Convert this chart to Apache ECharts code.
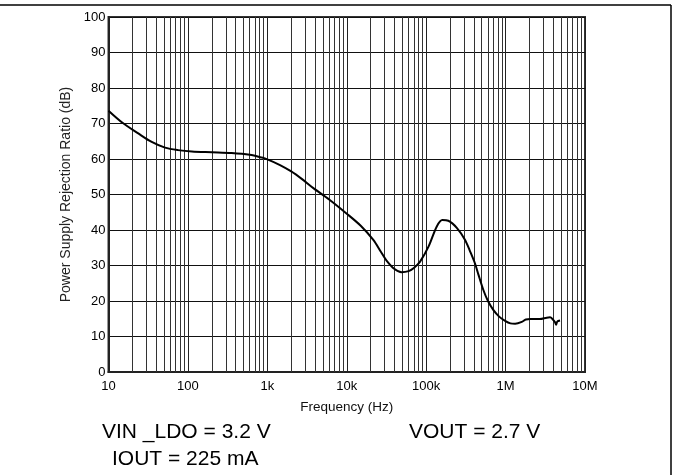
<!DOCTYPE html>
<html>
<head>
<meta charset="utf-8">
<script src="https://cdn.jsdelivr.net/npm/echarts@6/dist/echarts.min.js"></script>
<style>
html,body{margin:0;padding:0;background:#fff;}
#chart{width:673px;height:475px;}
</style>
</head>
<body>
<div id="chart"></div>
<script>
// Frequency (Hz)
var freqHz = [10, 15, 23.7, 35, 51.5, 75, 112, 200, 355, 600, 851, 1000, 1445, 2000, 2710, 3800, 6000, 10000, 15000, 21600, 27000, 31700, 40000, 49000, 60000, 70000, 83800, 107000, 136000, 160000, 190000, 243000, 309000, 357000, 413000, 454000, 525000, 600000, 700000, 830000, 986000, 1150000, 1320000, 1600000, 1800000, 2040000, 2700000, 3300000, 3630000, 3940000, 4200000, 4330000, 4470000, 4850000];
// PSRR (dB)
var psrrDb = [73.6, 70.2, 67.2, 64.8, 63.2, 62.5, 62.1, 61.9, 61.7, 61.2, 60.4, 59.9, 58.3, 56.5, 54.4, 51.8, 48.6, 44.6, 41.2, 37.2, 33.8, 31.4, 29.0, 28.1, 28.4, 29.3, 31.1, 35.3, 41.0, 42.8, 42.6, 40.6, 37.2, 34.0, 30.5, 27.5, 23.1, 20.0, 17.5, 15.6, 14.4, 13.7, 13.6, 14.1, 14.8, 14.9, 14.9, 15.3, 15.4, 14.8, 14.0, 13.3, 14.2, 14.5];
// Minor vertical grid frequencies (2..9 of each decade)
var minorFreqs = [];
[10, 100, 1000, 10000, 100000, 1000000].forEach(function (d) {
  for (var k = 2; k <= 9; k++) minorFreqs.push(k * d);
});
var xTickLabels = ['10', '100', '1k', '10k', '100k', '1M', '10M'];
var yTicks = [0, 10, 20, 30, 40, 50, 60, 70, 80, 90, 100];
var notes = ['VIN _LDO = 3.2 V', 'VOUT = 2.7 V', 'IOUT = 225 mA'];

var FONT = "'Liberation Sans', Arial, sans-serif";
var chart = echarts.init(document.getElementById('chart'), null, {renderer: 'canvas'});
var seriesData = freqHz.map(function (f, i) { return [f, psrrDb[i]]; });

chart.setOption({
  animation: false,
  backgroundColor: '#fff',
  grid: {left: 108.5, right: 88, top: 17, bottom: 103, show: true, borderColor: '#333', borderWidth: 2, backgroundColor: 'transparent'},
  xAxis: {
    type: 'log', logBase: 10, min: 10, max: 10000000,
    axisLine: {show: true, lineStyle: {color: '#222', width: 2}},
    axisTick: {show: false},
    splitLine: {show: true, lineStyle: {color: '#222', width: 1}},
    axisLabel: {
      color: '#000', fontFamily: FONT, fontSize: 13, margin: 8,
      formatter: function (v) { var i = Math.round(Math.log10(v)) - 1; return xTickLabels[i] || ''; }
    },
    name: 'Frequency (Hz)', nameLocation: 'middle', nameGap: 28,
    nameTextStyle: {color: '#111', fontFamily: FONT, fontSize: 13.5}
  },
  yAxis: {
    type: 'value', min: 0, max: 100, interval: 10,
    axisLine: {show: true, lineStyle: {color: '#222', width: 2}},
    axisTick: {show: false},
    splitLine: {show: true, lineStyle: {color: '#111', width: 1.2}},
    axisLabel: {color: '#000', fontFamily: FONT, fontSize: 13, margin: 3,
      formatter: function (v) { return yTicks.indexOf(v) >= 0 ? String(v) : ''; }},
    name: 'Power Supply Rejection Ratio (dB)', nameLocation: 'middle', nameGap: 26,
    nameTextStyle: {color: '#222', fontFamily: FONT, fontSize: 14}
  },
  series: [{
    type: 'line',
    data: seriesData,
    smooth: 0.3,
    showSymbol: false,
    lineStyle: {color: '#000', width: 2},
    z: 5,
    markLine: {
      silent: true, symbol: 'none', animation: false,
      label: {show: false},
      lineStyle: {color: '#333', width: 1, type: 'solid'},
      data: minorFreqs.map(function (f) { return {xAxis: f}; })
    }
  }],
  graphic: [
    {type: 'line', shape: {x1: 0, y1: 5, x2: 671, y2: 5}, style: {stroke: '#000', lineWidth: 1.5}},
    {type: 'line', shape: {x1: 671, y1: 5, x2: 671, y2: 475}, style: {stroke: '#000', lineWidth: 1.5}},
    {type: 'text', left: 102, top: 422, style: {text: notes[0], font: '21px ' + FONT, fill: '#000'}},
    {type: 'text', left: 409, top: 422, style: {text: notes[1], font: '21px ' + FONT, fill: '#000'}},
    {type: 'text', left: 112, top: 449, style: {text: notes[2], font: '21px ' + FONT, fill: '#000'}}
  ]
});
</script>
</body>
</html>
